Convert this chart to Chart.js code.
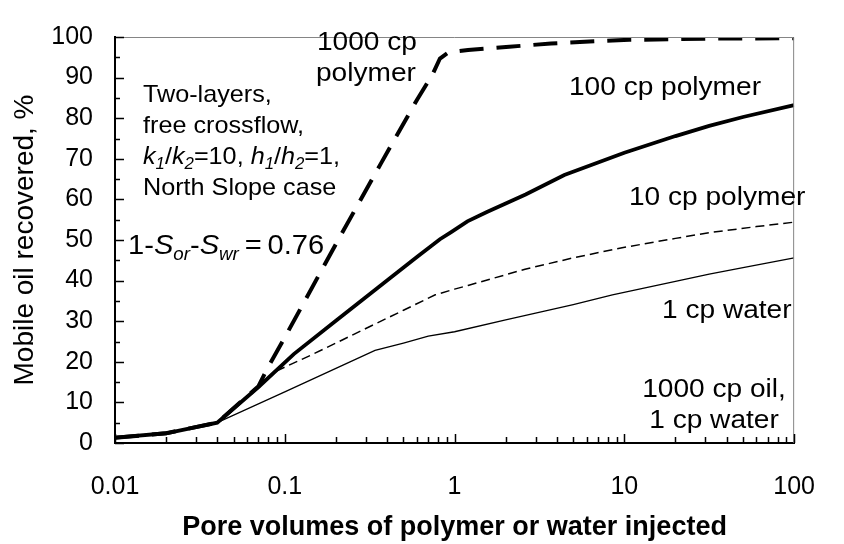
<!DOCTYPE html>
<html>
<head>
<meta charset="utf-8">
<script src="https://cdn.jsdelivr.net/npm/chart.js@4.4.1/dist/chart.umd.min.js"></script>
<style>
  html, body { margin: 0; padding: 0; background: #fff; }
  #wrap { width: 844px; height: 544px; }
</style>
</head>
<body>
<div id="wrap"><canvas id="chart" width="844" height="544"></canvas></div>
<script>
// pore volumes injected (x) and mobile oil recovered, % (y)
const pvWater  = [0.01, 0.02, 0.04, 0.1, 0.2, 0.34, 0.5, 0.7, 1, 2, 3, 5, 8.5, 20, 31.6, 50, 100];
const recWater = [1.3, 2.4, 5, 12.6, 18.4, 22.8, 24.6, 26.3, 27.4, 30.3, 32.0, 34.1, 36.5, 39.8, 41.6, 43.2, 45.6];

const pv10  = [0.01, 0.02, 0.04, 0.07, 0.09, 0.147, 0.3, 0.5, 0.77, 1, 1.2, 2.6, 5, 9.7, 20, 31.6, 60, 100];
const rec10 = [1.3, 2.4, 5, 13.8, 17.8, 21.9, 28.2, 32.7, 36.5, 37.9, 38.8, 42.8, 45.6, 48.1, 50.4, 51.8, 53.3, 54.4];

const pv100  = [0.01, 0.02, 0.04, 0.07, 0.113, 0.2, 0.4, 0.6, 0.82, 0.95, 1.19, 1.55, 2.62, 4.43, 10, 20, 31.6, 50, 100];
const rec100 = [1.3, 2.4, 5, 13.8, 21.9, 30.1, 40, 45.8, 50.2, 51.9, 54.6, 56.9, 61.2, 66, 71.5, 75.6, 78.1, 80.3, 83.2];

const pv1000  = [0.01, 0.02, 0.04, 0.07, 0.08, 0.1, 0.2, 0.37, 0.6, 0.74, 0.82, 0.92, 1.2, 2.1, 3.7, 7.2, 10.7, 35, 100];
const rec1000 = [1.3, 2.4, 5, 14, 18.8, 26, 49, 69, 84.5, 90.7, 94.7, 96.2, 96.8, 97.6, 98.4, 99, 99.3, 99.6, 99.7];

const xTickVals   = [0.01, 0.1, 1, 10, 100];
const xTickLabels = ['0.01', '0.1', '1', '10', '100'];
const yTickStep = 10;

const FONT = '"Liberation Sans", Arial, sans-serif';

function pts(xs, ys) {
  return xs.map((v, i) => ({ x: v, y: ys[i] }));
}

// the source figure's lettering is a little wider than plain Arial, so stretch it
function drawText(ctx, text, x, y, size, sx, align) {
  ctx.save();
  ctx.font = size + 'px ' + FONT;
  const w = ctx.measureText(text).width * sx;
  let left = x;
  if (align === 'center') left = x - w / 2;
  ctx.translate(left, y);
  ctx.scale(sx, 1);
  ctx.textAlign = 'left';
  ctx.fillText(text, 0, 0);
  ctx.restore();
}

// text with italic / subscript pieces, left aligned at x, baseline y
function drawRich(ctx, parts, x, y, size, sx) {
  ctx.save();
  ctx.translate(x, y);
  ctx.scale(sx, 1);
  let cx = 0;
  parts.forEach(p => {
    const s = p.sub ? Math.round(size * 0.66) : size;
    ctx.font = (p.it ? 'italic ' : '') + s + 'px ' + FONT;
    ctx.fillText(p.t, cx, p.sub ? size * 0.22 : 0);
    cx += ctx.measureText(p.t).width;
  });
  ctx.restore();
}

const framePlugin = {
  id: 'frame',
  afterDraw(chart) {
    const { ctx, chartArea: a, scales: { x, y } } = chart;
    ctx.save();

    // thin grey top and right edges
    ctx.strokeStyle = '#858585';
    ctx.lineWidth = 1;
    ctx.beginPath();
    ctx.moveTo(a.left, a.top + 0.5);
    ctx.lineTo(a.right - 0.5, a.top + 0.5);
    ctx.lineTo(a.right - 0.5, a.bottom);
    ctx.stroke();

    // tick marks point inwards
    ctx.strokeStyle = '#000';
    ctx.lineWidth = 1.5;
    ctx.beginPath();
    for (let v = 0; v <= 100; v += yTickStep / 2) {
      const py = Math.round(y.getPixelForValue(v)) + 0.5;
      const len = v % yTickStep === 0 ? 9 : 5;
      ctx.moveTo(a.left, py);
      ctx.lineTo(a.left + len, py);
    }
    xTickVals.slice(0, -1).forEach(d => {
      for (let m = 1; m <= 10; m++) {
        const px = Math.round(x.getPixelForValue(d * m)) + 0.5;
        const len = (m === 1 || m === 10) ? 9 : 6;
        ctx.moveTo(px, a.bottom);
        ctx.lineTo(px, a.bottom - len);
      }
    });
    ctx.stroke();

    // annotations
    ctx.fillStyle = '#000';
    ctx.textBaseline = 'alphabetic';
    const rs = 26, rsx = 1.08;
    drawText(ctx, '1000 cp', 317, 50, rs, rsx);
    drawText(ctx, 'polymer', 316, 81, rs, rsx);
    drawText(ctx, '100 cp polymer', 569, 95, rs, rsx);
    drawText(ctx, '10 cp polymer', 629, 205, rs, rsx);
    drawText(ctx, '1 cp water', 662, 318, rs, rsx);
    drawText(ctx, '1000 cp oil,', 714, 397, rs, rsx, 'center');
    drawText(ctx, '1 cp water', 714, 428, rs, rsx, 'center');

    const ls = 24, lsx = 1.05;
    drawText(ctx, 'Two-layers,', 143, 102, ls, lsx);
    drawText(ctx, 'free crossflow,', 143, 133, ls, lsx);
    drawRich(ctx, [
      { t: 'k', it: true }, { t: '1', it: true, sub: true }, { t: '/' },
      { t: 'k', it: true }, { t: '2', it: true, sub: true }, { t: '=10, ' },
      { t: 'h', it: true }, { t: '1', it: true, sub: true }, { t: '/' },
      { t: 'h', it: true }, { t: '2', it: true, sub: true }, { t: '=1,' }
    ], 143, 164, ls, lsx);
    drawText(ctx, 'North Slope case', 143, 195, ls, lsx);
    drawRich(ctx, [
      { t: '1-' }, { t: 'S', it: true }, { t: 'or', it: true, sub: true },
      { t: '-' }, { t: 'S', it: true }, { t: 'wr', it: true, sub: true },
      { t: '\u2009=\u2009' }, { t: '0.76' }
    ], 128, 254, 28, 1.04);

    ctx.restore();
  }
};

const ctx = document.getElementById('chart').getContext('2d');
new Chart(ctx, {
  type: 'line',
  data: {
    datasets: [
      { label: '1 cp water', data: pts(pvWater, recWater), borderColor: '#000', borderWidth: 1.3 },
      { label: '10 cp polymer', data: pts(pv10, rec10), borderColor: '#000', borderWidth: 1.5, borderDash: [9, 5] },
      { label: '100 cp polymer', data: pts(pv100, rec100), borderColor: '#000', borderWidth: 3.8 },
      { label: '1000 cp polymer', data: pts(pv1000, rec1000), borderColor: '#000', borderWidth: 4, borderDash: [24, 13] }
    ]
  },
  options: {
    responsive: false,
    animation: false,
    layout: { padding: { top: 19, right: 26, bottom: 0, left: 0 } },
    elements: { point: { radius: 0 }, line: { tension: 0, fill: false } },
    plugins: { legend: { display: false }, tooltip: { enabled: false } },
    scales: {
      x: {
        type: 'logarithmic',
        min: 0.01,
        max: 100,
        afterFit(scale) { scale.height = 101; },
        afterBuildTicks(scale) { scale.ticks = xTickVals.map(v => ({ value: v })); },
        grid: { display: false, drawTicks: false },
        border: { display: true, color: '#000', width: 2 },
        ticks: {
          autoSkip: false,
          maxRotation: 0,
          padding: 29,
          color: '#000',
          font: { family: FONT, size: 25 },
          callback: (v) => { const i = xTickVals.indexOf(v); return i >= 0 ? xTickLabels[i] : ''; }
        },
        title: {
          display: true,
          text: 'Pore volumes of polymer or water injected',
          color: '#000',
          font: { family: FONT, size: 27, weight: 'bold' },
          padding: { top: 0, bottom: 0 }
        }
      },
      y: {
        min: 0,
        max: 100,
        afterFit(scale) { scale.width = 115; },
        grid: { display: false, drawTicks: false },
        border: { display: true, color: '#000', width: 2 },
        ticks: {
          stepSize: yTickStep,
          padding: 22,
          color: '#000',
          font: { family: FONT, size: 25 }
        },
        title: {
          display: true,
          text: 'Mobile oil recovered, %',
          color: '#000',
          font: { family: FONT, size: 28 },
          padding: { top: 8, bottom: 0 }
        }
      }
    }
  },
  plugins: [framePlugin]
});
</script>
</body>
</html>
